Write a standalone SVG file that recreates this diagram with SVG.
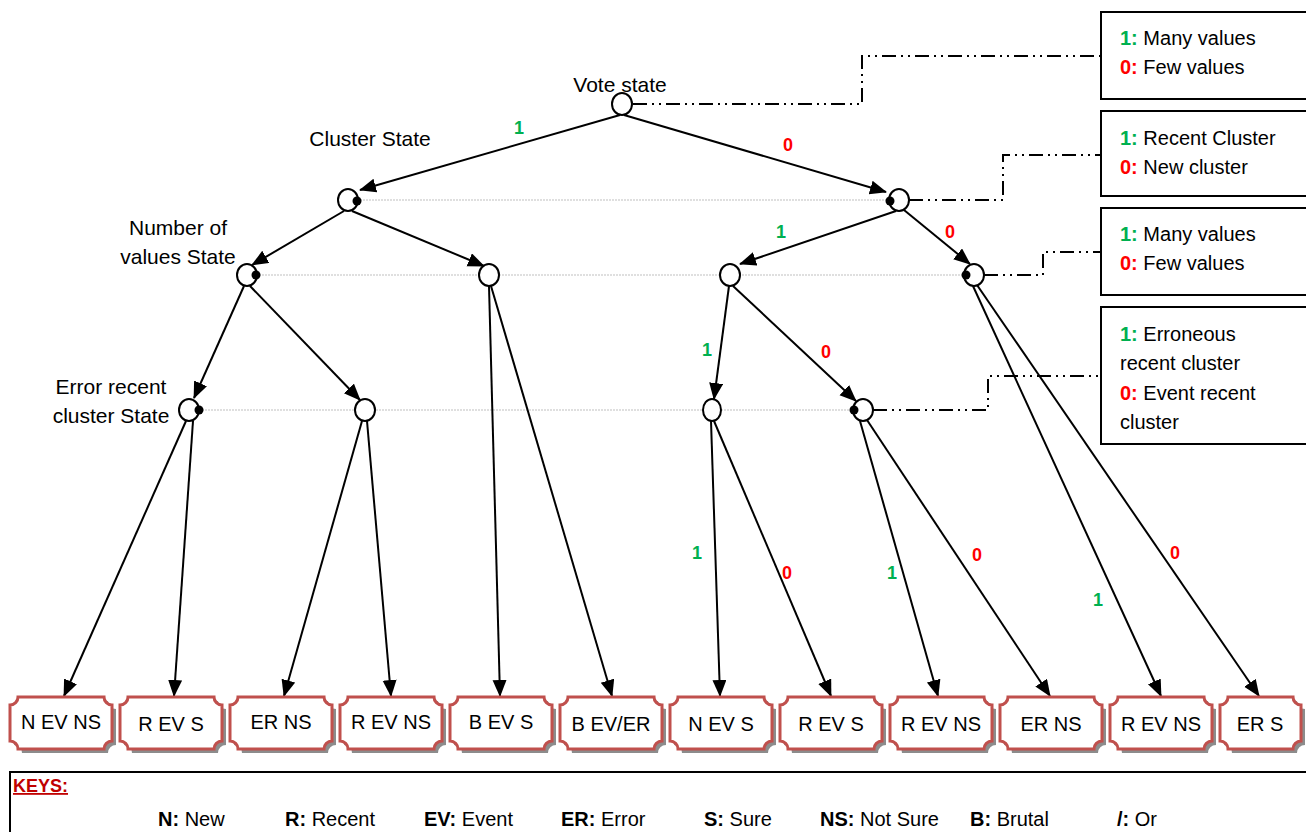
<svg xmlns="http://www.w3.org/2000/svg" width="1306" height="832" viewBox="0 0 1306 832">
<defs>
<marker id="ah" markerUnits="userSpaceOnUse" markerWidth="20" markerHeight="16" refX="16" refY="7" orient="auto">
<path d="M0,0 L17,7 L0,14 Z" fill="#000"/>
</marker>
<style>
.t{font-family:"Liberation Sans",Arial,sans-serif;font-size:21px;fill:#000}
.lt{font-family:"Liberation Sans",Arial,sans-serif;font-size:20px;fill:#000}
.g{font-family:"Liberation Sans",Arial,sans-serif;font-size:18px;font-weight:bold;fill:#00b050}
.r{font-family:"Liberation Sans",Arial,sans-serif;font-size:18px;font-weight:bold;fill:#ff0000}
.gb{fill:#00b050;font-weight:bold}
.rb{fill:#ff0000;font-weight:bold}
.b{font-weight:bold}
.edge{stroke:#000;stroke-width:2;fill:none;marker-end:url(#ah)}
.dd{stroke:#000;stroke-width:2;fill:none;stroke-dasharray:14 5 2 5 2 5}
.dot{stroke:#bfbfbf;stroke-width:1;stroke-dasharray:2 1;fill:none}
.node{fill:#fff;stroke:#000;stroke-width:2}
.pin{fill:#000}
.leaf{fill:#fff;stroke:#c0504d;stroke-width:3}
.shadow{fill:#8c8c8c}
.leg{fill:#fff;stroke:#000;stroke-width:2}
</style>
</defs>
<rect width="1306" height="832" fill="#fff"/>

<!-- gray level guide lines -->
<g id="guides">
<line class="dot" x1="357" y1="200" x2="890" y2="200"/>
<line class="dot" x1="256" y1="275" x2="966" y2="275"/>
<line class="dot" x1="199" y1="410" x2="854" y2="410"/>
</g>

<!-- connectors -->
<g id="connectors">
<line class="edge" x1="620" y1="115" x2="360" y2="190"/>
<line class="edge" x1="624" y1="115" x2="886" y2="192"/>
<line class="edge" x1="344" y1="211" x2="252" y2="265"/>
<line class="edge" x1="352" y1="211" x2="484" y2="266"/>
<line class="edge" x1="896" y1="211" x2="740" y2="264"/>
<line class="edge" x1="904" y1="210" x2="970" y2="264"/>
<line class="edge" x1="244" y1="286" x2="194" y2="398"/>
<line class="edge" x1="250" y1="286" x2="360" y2="400"/>
<line class="edge" x1="729" y1="286" x2="714" y2="399"/>
<line class="edge" x1="733" y1="286" x2="856" y2="401"/>
<line class="edge" x1="186" y1="421" x2="64" y2="696"/>
<line class="edge" x1="193" y1="421" x2="174" y2="696"/>
<line class="edge" x1="362" y1="421" x2="284" y2="696"/>
<line class="edge" x1="367" y1="421" x2="391" y2="696"/>
<line class="edge" x1="489" y1="286" x2="500" y2="696"/>
<line class="edge" x1="491" y1="286" x2="612" y2="696"/>
<line class="edge" x1="711" y1="421" x2="720" y2="696"/>
<line class="edge" x1="714" y1="421" x2="831" y2="696"/>
<line class="edge" x1="860" y1="421" x2="938" y2="696"/>
<line class="edge" x1="867" y1="420" x2="1050" y2="696"/>
<line class="edge" x1="973" y1="286" x2="1161" y2="696"/>
<line class="edge" x1="977" y1="285" x2="1259" y2="696"/>
<!-- dash-dot links to legends -->
<polyline class="dd" points="633,104 862,104 862,56 1101,56"/>
<polyline class="dd" points="909,200 1003,200 1003,155 1101,155"/>
<polyline class="dd" points="984,275 1043,275 1043,252 1101,252"/>
<polyline class="dd" points="873,410 988,410 988,376 1101,376"/>
<!-- edge labels -->
<text class="g" x="519" y="134" text-anchor="middle">1</text>
<text class="r" x="788" y="151" text-anchor="middle">0</text>
<text class="g" x="781" y="238" text-anchor="middle">1</text>
<text class="r" x="950" y="238" text-anchor="middle">0</text>
<text class="g" x="707" y="356" text-anchor="middle">1</text>
<text class="r" x="826" y="358" text-anchor="middle">0</text>
<text class="g" x="697" y="559" text-anchor="middle">1</text>
<text class="r" x="787" y="579" text-anchor="middle">0</text>
<text class="g" x="892" y="579" text-anchor="middle">1</text>
<text class="r" x="977" y="561" text-anchor="middle">0</text>
<text class="g" x="1098" y="606" text-anchor="middle">1</text>
<text class="r" x="1175" y="559" text-anchor="middle">0</text>
</g>

<!-- decision nodes -->
<g id="n-vote"><ellipse class="node" cx="622" cy="104" rx="10" ry="11"/><text class="t" x="620" y="92" text-anchor="middle">Vote state</text></g>
<g id="n-cl-l"><ellipse class="node" cx="348" cy="200" rx="10" ry="11"/><circle class="pin" cx="357" cy="201" r="4.5"/><text class="t" x="370" y="146" text-anchor="middle">Cluster State</text></g>
<g id="n-cl-r"><ellipse class="node" cx="899" cy="200" rx="10" ry="11"/><circle class="pin" cx="890" cy="201" r="4.5"/></g>
<g id="n-nv-1"><ellipse class="node" cx="247" cy="275" rx="10" ry="11"/><circle class="pin" cx="256" cy="275" r="4.5"/><text class="t" x="178" y="235" text-anchor="middle">Number of</text><text class="t" x="178" y="264" text-anchor="middle">values State</text></g>
<g id="n-nv-2"><ellipse class="node" cx="489" cy="275" rx="10" ry="11"/></g>
<g id="n-nv-3"><ellipse class="node" cx="730" cy="275" rx="10" ry="11"/></g>
<g id="n-nv-4"><ellipse class="node" cx="974" cy="275" rx="10" ry="11"/><circle class="pin" cx="966" cy="275" r="4.5"/></g>
<g id="n-er-1"><ellipse class="node" cx="189" cy="410" rx="10" ry="11"/><circle class="pin" cx="199" cy="410" r="4.5"/><text class="t" x="111" y="394" text-anchor="middle">Error recent</text><text class="t" x="111" y="423" text-anchor="middle">cluster State</text></g>
<g id="n-er-2"><ellipse class="node" cx="365" cy="410" rx="10" ry="11"/></g>
<g id="n-er-3"><ellipse class="node" cx="712" cy="410" rx="9" ry="11"/></g>
<g id="n-er-4"><ellipse class="node" cx="863" cy="410" rx="10" ry="11"/><circle class="pin" cx="854" cy="410" r="4.5"/></g>

<!-- legend boxes -->
<g id="legend-1"><rect class="leg" x="1101" y="12" width="215" height="87"/><text class="lt" x="1120" y="45"><tspan class="gb">1:</tspan> Many values</text><text class="lt" x="1120" y="74"><tspan class="rb">0:</tspan> Few values</text></g>
<g id="legend-2"><rect class="leg" x="1101" y="111" width="215" height="85"/><text class="lt" x="1120" y="145"><tspan class="gb">1:</tspan> Recent Cluster</text><text class="lt" x="1120" y="174"><tspan class="rb">0:</tspan> New cluster</text></g>
<g id="legend-3"><rect class="leg" x="1101" y="208" width="215" height="87"/><text class="lt" x="1120" y="241"><tspan class="gb">1:</tspan> Many values</text><text class="lt" x="1120" y="270"><tspan class="rb">0:</tspan> Few values</text></g>
<g id="legend-4"><rect class="leg" x="1101" y="307" width="215" height="137"/><text class="lt" x="1120" y="341"><tspan class="gb">1:</tspan> Erroneous</text><text class="lt" x="1120" y="370">recent cluster</text><text class="lt" x="1120" y="400"><tspan class="rb">0:</tspan> Event recent</text><text class="lt" x="1120" y="429">cluster</text></g>

<!-- leaves -->
<g id="leaf-1"><path class="shadow" transform="translate(4,4)" d="M18,697 H104 A8,8 0 0 0 112,705 V741 A8,8 0 0 0 104,749 H18 A8,8 0 0 0 10,741 V705 A8,8 0 0 0 18,697 Z"/><path class="leaf" d="M18,697 H104 A8,8 0 0 0 112,705 V741 A8,8 0 0 0 104,749 H18 A8,8 0 0 0 10,741 V705 A8,8 0 0 0 18,697 Z"/><text class="lt" x="61" y="729" text-anchor="middle">N EV NS</text></g>
<g id="leaf-2"><path class="shadow" transform="translate(4,4)" d="M128,697 H214 A8,8 0 0 0 222,705 V741 A8,8 0 0 0 214,749 H128 A8,8 0 0 0 120,741 V705 A8,8 0 0 0 128,697 Z"/><path class="leaf" d="M128,697 H214 A8,8 0 0 0 222,705 V741 A8,8 0 0 0 214,749 H128 A8,8 0 0 0 120,741 V705 A8,8 0 0 0 128,697 Z"/><text class="lt" x="171" y="731" text-anchor="middle">R EV S</text></g>
<g id="leaf-3"><path class="shadow" transform="translate(4,4)" d="M238,697 H324 A8,8 0 0 0 332,705 V741 A8,8 0 0 0 324,749 H238 A8,8 0 0 0 230,741 V705 A8,8 0 0 0 238,697 Z"/><path class="leaf" d="M238,697 H324 A8,8 0 0 0 332,705 V741 A8,8 0 0 0 324,749 H238 A8,8 0 0 0 230,741 V705 A8,8 0 0 0 238,697 Z"/><text class="lt" x="281" y="729" text-anchor="middle">ER NS</text></g>
<g id="leaf-4"><path class="shadow" transform="translate(4,4)" d="M348,697 H434 A8,8 0 0 0 442,705 V741 A8,8 0 0 0 434,749 H348 A8,8 0 0 0 340,741 V705 A8,8 0 0 0 348,697 Z"/><path class="leaf" d="M348,697 H434 A8,8 0 0 0 442,705 V741 A8,8 0 0 0 434,749 H348 A8,8 0 0 0 340,741 V705 A8,8 0 0 0 348,697 Z"/><text class="lt" x="391" y="729" text-anchor="middle">R EV NS</text></g>
<g id="leaf-5"><path class="shadow" transform="translate(4,4)" d="M458,697 H544 A8,8 0 0 0 552,705 V741 A8,8 0 0 0 544,749 H458 A8,8 0 0 0 450,741 V705 A8,8 0 0 0 458,697 Z"/><path class="leaf" d="M458,697 H544 A8,8 0 0 0 552,705 V741 A8,8 0 0 0 544,749 H458 A8,8 0 0 0 450,741 V705 A8,8 0 0 0 458,697 Z"/><text class="lt" x="501" y="729" text-anchor="middle">B EV S</text></g>
<g id="leaf-6"><path class="shadow" transform="translate(4,4)" d="M568,697 H654 A8,8 0 0 0 662,705 V741 A8,8 0 0 0 654,749 H568 A8,8 0 0 0 560,741 V705 A8,8 0 0 0 568,697 Z"/><path class="leaf" d="M568,697 H654 A8,8 0 0 0 662,705 V741 A8,8 0 0 0 654,749 H568 A8,8 0 0 0 560,741 V705 A8,8 0 0 0 568,697 Z"/><text class="lt" x="611" y="731" text-anchor="middle">B EV/ER</text></g>
<g id="leaf-7"><path class="shadow" transform="translate(4,4)" d="M678,697 H764 A8,8 0 0 0 772,705 V741 A8,8 0 0 0 764,749 H678 A8,8 0 0 0 670,741 V705 A8,8 0 0 0 678,697 Z"/><path class="leaf" d="M678,697 H764 A8,8 0 0 0 772,705 V741 A8,8 0 0 0 764,749 H678 A8,8 0 0 0 670,741 V705 A8,8 0 0 0 678,697 Z"/><text class="lt" x="721" y="731" text-anchor="middle">N EV S</text></g>
<g id="leaf-8"><path class="shadow" transform="translate(4,4)" d="M788,697 H874 A8,8 0 0 0 882,705 V741 A8,8 0 0 0 874,749 H788 A8,8 0 0 0 780,741 V705 A8,8 0 0 0 788,697 Z"/><path class="leaf" d="M788,697 H874 A8,8 0 0 0 882,705 V741 A8,8 0 0 0 874,749 H788 A8,8 0 0 0 780,741 V705 A8,8 0 0 0 788,697 Z"/><text class="lt" x="831" y="731" text-anchor="middle">R EV S</text></g>
<g id="leaf-9"><path class="shadow" transform="translate(4,4)" d="M898,697 H984 A8,8 0 0 0 992,705 V741 A8,8 0 0 0 984,749 H898 A8,8 0 0 0 890,741 V705 A8,8 0 0 0 898,697 Z"/><path class="leaf" d="M898,697 H984 A8,8 0 0 0 992,705 V741 A8,8 0 0 0 984,749 H898 A8,8 0 0 0 890,741 V705 A8,8 0 0 0 898,697 Z"/><text class="lt" x="941" y="731" text-anchor="middle">R EV NS</text></g>
<g id="leaf-10"><path class="shadow" transform="translate(4,4)" d="M1008,697 H1094 A8,8 0 0 0 1102,705 V741 A8,8 0 0 0 1094,749 H1008 A8,8 0 0 0 1000,741 V705 A8,8 0 0 0 1008,697 Z"/><path class="leaf" d="M1008,697 H1094 A8,8 0 0 0 1102,705 V741 A8,8 0 0 0 1094,749 H1008 A8,8 0 0 0 1000,741 V705 A8,8 0 0 0 1008,697 Z"/><text class="lt" x="1051" y="731" text-anchor="middle">ER NS</text></g>
<g id="leaf-11"><path class="shadow" transform="translate(4,4)" d="M1118,697 H1204 A8,8 0 0 0 1212,705 V741 A8,8 0 0 0 1204,749 H1118 A8,8 0 0 0 1110,741 V705 A8,8 0 0 0 1118,697 Z"/><path class="leaf" d="M1118,697 H1204 A8,8 0 0 0 1212,705 V741 A8,8 0 0 0 1204,749 H1118 A8,8 0 0 0 1110,741 V705 A8,8 0 0 0 1118,697 Z"/><text class="lt" x="1161" y="731" text-anchor="middle">R EV NS</text></g>
<g id="leaf-12"><path class="shadow" transform="translate(4,4)" d="M1228,697 H1293 A8,8 0 0 0 1301,705 V741 A8,8 0 0 0 1293,749 H1228 A8,8 0 0 0 1220,741 V705 A8,8 0 0 0 1228,697 Z"/><path class="leaf" d="M1228,697 H1293 A8,8 0 0 0 1301,705 V741 A8,8 0 0 0 1293,749 H1228 A8,8 0 0 0 1220,741 V705 A8,8 0 0 0 1228,697 Z"/><text class="lt" x="1260" y="731" text-anchor="middle">ER S</text></g>

<!-- keys -->
<g id="keys">
<rect x="10" y="772" width="1310" height="80" fill="#fff" stroke="#000" stroke-width="2"/>
<text x="13" y="792" font-family="Liberation Sans, Arial, sans-serif" font-size="18" font-weight="bold" fill="#c00000" text-decoration="underline">KEYS:</text>
<text class="lt" x="158" y="826"><tspan class="b">N:</tspan> New</text>
<text class="lt" x="285" y="826"><tspan class="b">R:</tspan> Recent</text>
<text class="lt" x="424" y="826"><tspan class="b">EV:</tspan> Event</text>
<text class="lt" x="561" y="826"><tspan class="b">ER:</tspan> Error</text>
<text class="lt" x="704" y="826"><tspan class="b">S:</tspan> Sure</text>
<text class="lt" x="820" y="826"><tspan class="b">NS:</tspan> Not Sure</text>
<text class="lt" x="970" y="826"><tspan class="b">B:</tspan> Brutal</text>
<text class="lt" x="1117" y="826"><tspan class="b">/:</tspan> Or</text>
</g>
</svg>
